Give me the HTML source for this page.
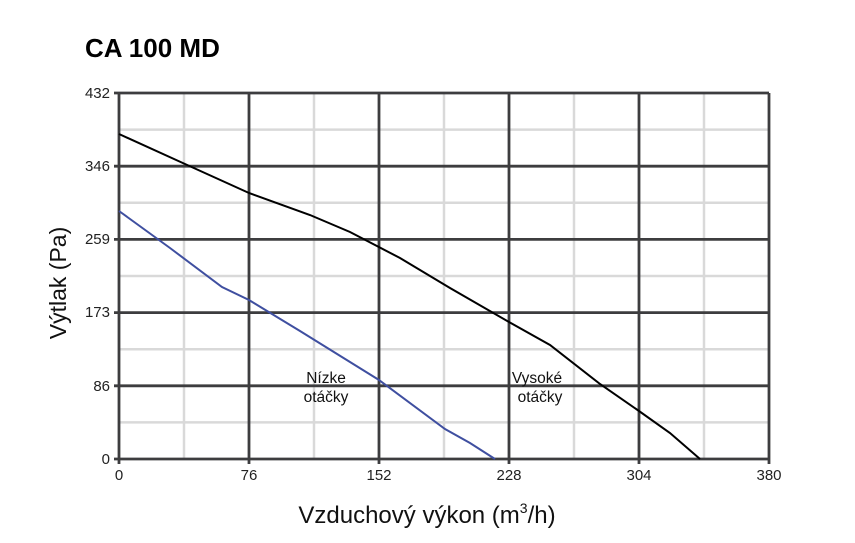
<!DOCTYPE html><html><head><style>body{margin:0;background:#fff}svg{display:block}text{font-family:"Liberation Sans",sans-serif}</style></head><body>
<svg width="855" height="543" xmlns="http://www.w3.org/2000/svg">
<text x="85" y="57" font-size="26" font-weight="bold" fill="#000">CA 100 MD</text>
<g stroke="#d9d9d9" stroke-width="2.5">
<line x1="184" y1="93" x2="184" y2="459"/><line x1="314" y1="93" x2="314" y2="459"/><line x1="444" y1="93" x2="444" y2="459"/><line x1="574" y1="93" x2="574" y2="459"/><line x1="704" y1="93" x2="704" y2="459"/>
<line x1="119" y1="129.6" x2="769" y2="129.6"/><line x1="119" y1="202.8" x2="769" y2="202.8"/><line x1="119" y1="276" x2="769" y2="276"/><line x1="119" y1="349.2" x2="769" y2="349.2"/><line x1="119" y1="422.4" x2="769" y2="422.4"/>
</g>
<g stroke="#3d3d3f" stroke-width="2.8">
<line x1="119" y1="93" x2="119" y2="464"/><line x1="249" y1="93" x2="249" y2="464"/><line x1="379" y1="93" x2="379" y2="464"/><line x1="509" y1="93" x2="509" y2="464"/><line x1="639" y1="93" x2="639" y2="464"/><line x1="769" y1="93" x2="769" y2="464"/>
<line x1="114" y1="93" x2="769" y2="93"/><line x1="114" y1="166.2" x2="769" y2="166.2"/><line x1="114" y1="239.4" x2="769" y2="239.4"/><line x1="114" y1="312.6" x2="769" y2="312.6"/><line x1="114" y1="385.8" x2="769" y2="385.8"/><line x1="114" y1="459" x2="769" y2="459"/>
</g>
<g font-size="15" fill="#222" text-anchor="end">
<text x="110" y="98">432</text><text x="110" y="171">346</text><text x="110" y="244">259</text><text x="110" y="317">173</text><text x="110" y="391">86</text><text x="110" y="464">0</text>
</g>
<g font-size="15" fill="#222" text-anchor="middle">
<text x="119" y="480">0</text><text x="249" y="480">76</text><text x="379" y="480">152</text><text x="509" y="480">228</text><text x="639" y="480">304</text><text x="769" y="480">380</text>
</g>
<path d="M119,134 L185,164 L249,193 L310,215 L350,232 L400,258 L450,288 L509,322 L550,345 L600,384 L639,411 L670,433 L700,459" fill="none" stroke="#000" stroke-width="2"/>
<path d="M119,211 L170,248 L222,287 L249,300 L300,331 L379,380 L445,429 L470,443 L495,459" fill="none" stroke="#3f4fa0" stroke-width="2"/>
<g font-size="15.5" fill="#111" text-anchor="middle">
<text x="326" y="383">Nízke</text><text x="326" y="402">otáčky</text>
<text x="537" y="383">Vysoké</text><text x="540" y="402">otáčky</text>
</g>
<text x="427" y="523" font-size="24" fill="#111" text-anchor="middle">Vzduchový výkon (m<tspan font-size="14" dy="-10">3</tspan><tspan dy="10">/h)</tspan></text>
<text transform="translate(66,283) rotate(-90)" font-size="23" fill="#111" text-anchor="middle">Výtlak (Pa)</text>
</svg></body></html>
